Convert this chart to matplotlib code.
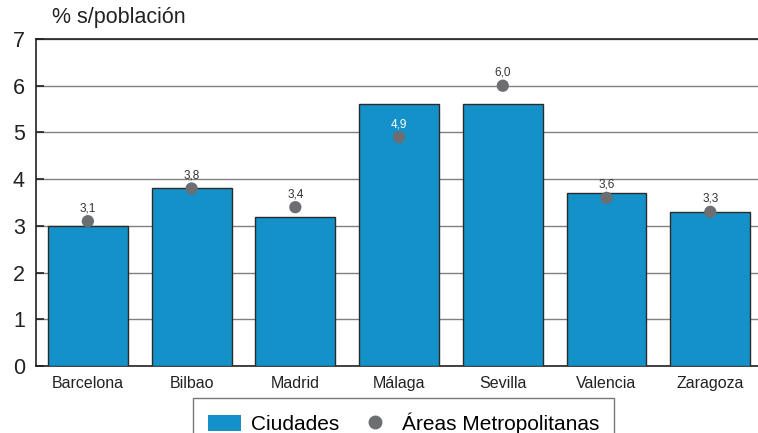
import matplotlib
matplotlib.use("Agg")
import matplotlib.pyplot as plt
from matplotlib.lines import Line2D
from matplotlib.patches import Patch

categories = ["Barcelona", "Bilbao", "Madrid", "Málaga", "Sevilla", "Valencia", "Zaragoza"]
ciudades = [3.0, 3.8, 3.2, 5.6, 5.6, 3.7, 3.3]
areas = [3.1, 3.8, 3.4, 4.9, 6.0, 3.6, 3.3]
label_colors = ["#333333", "#333333", "#333333", "white", "#333333", "#333333", "#333333"]

plt.rcParams['font.family'] = ['Liberation Sans', 'DejaVu Sans']

fig = plt.figure(figsize=(7.58, 4.33), dpi=100)
ax = fig.add_axes([36/758, 1-366/433, (758-36)/758, (366-39)/433])

x = list(range(len(categories)))
ax.bar(x, ciudades, width=0.77, color="#1591c9", edgecolor="#2a2a2a", linewidth=1.0, zorder=3)
ax.scatter(x, areas, s=78, color="#6d6e71", zorder=4, edgecolors="none")
for xi, v, c in zip(x, areas, label_colors):
    ax.annotate(f"{v:.1f}".replace(".", ","), (xi, v), xytext=(0, 5), textcoords="offset points",
                ha="center", va="bottom", fontsize=8.5, color=c, zorder=5)

ax.set_xlim(-0.5, 6.46)
ax.set_ylim(0, 7)
ax.set_yticks(range(0, 8))
ax.yaxis.grid(True, color="#808080", linewidth=1.0, zorder=0)
ax.set_axisbelow(True)
ax.set_xticks(x)
ax.set_xticklabels(categories, fontsize=11.5, color="#222222")
ax.tick_params(axis="x", length=0, pad=7)
ax.tick_params(axis="y", direction="in", length=6, width=1.2, labelsize=15.5, pad=8, colors="#222222")
for s in ["left", "bottom", "top"]:
    ax.spines[s].set_color("#222222")
    ax.spines[s].set_linewidth(1.2)
ax.spines["right"].set_visible(False)

fig.text(52/758, 1-18/433, "% s/población", fontsize=15.5, color="#222222", va="center", ha="left")

handles = [Patch(facecolor="#1591c9", edgecolor="none"),
           Line2D([], [], marker="o", linestyle="none", markersize=9, color="#6d6e71")]
leg = fig.legend(handles, ["Ciudades", "Áreas Metropolitanas"], loc="upper left",
                 bbox_to_anchor=(193/758, 1-398/433), borderaxespad=0, ncol=2, fontsize=15,
                 frameon=True, fancybox=False, edgecolor="#555555", handlelength=1.6,
                 handleheight=0.8, columnspacing=0.9, handletextpad=0.5, borderpad=0.7)
leg.get_frame().set_linewidth(1.0)

fig.savefig("out.png", dpi=100)
